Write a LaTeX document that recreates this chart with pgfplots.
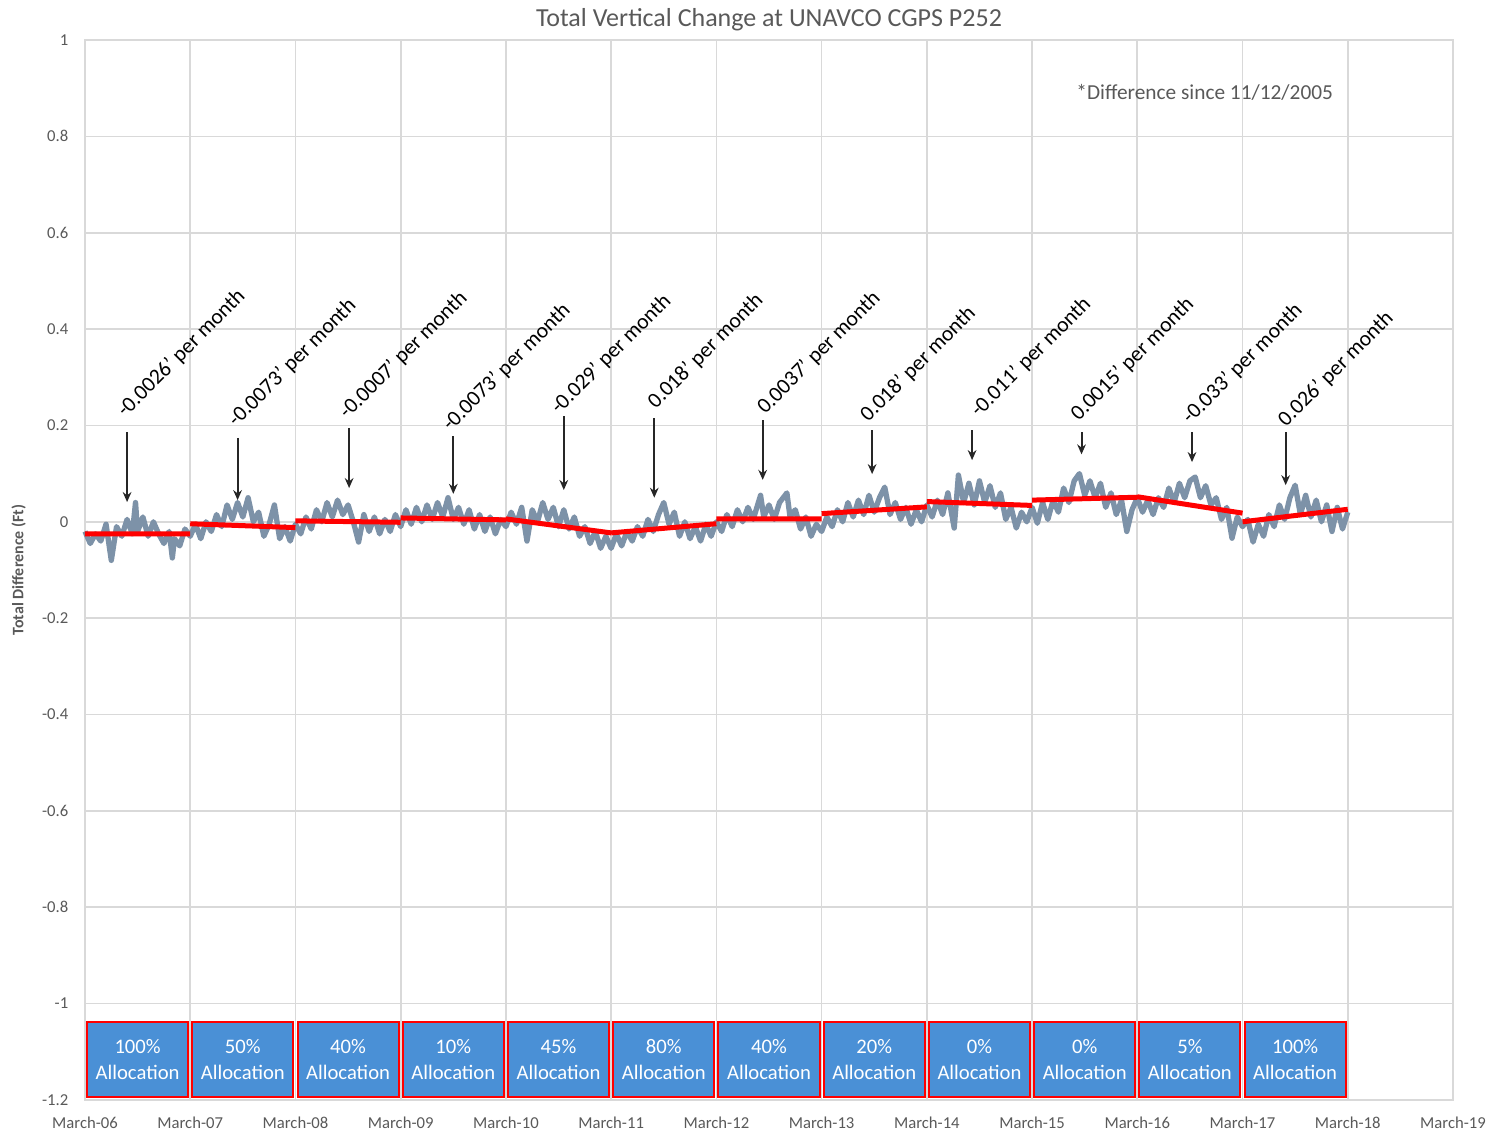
\documentclass[border=0pt]{standalone}
\usepackage{pgfplots}
\usepackage{pgfplotstable}
\pgfplotsset{compat=1.18}
\usepackage{fontspec}
\setmainfont{Carlito}
\usetikzlibrary{arrows.meta}

\definecolor{txtgray}{HTML}{595959}
\definecolor{gpsgray}{HTML}{7D92A8}
\definecolor{boxblue}{HTML}{4A90D6}
\definecolor{gridgray}{HTML}{D9D9D9}

% daily vertical change (years since March-06, ft)
\pgfplotstableread{
t v
0.00 -0.020
0.05 -0.045
0.10 -0.025
0.15 -0.040
0.20 -0.005
0.25 -0.080
0.30 -0.010
0.35 -0.030
0.40 0.005
0.45 -0.025
0.48 0.040
0.50 -0.020
0.55 0.010
0.60 -0.030
0.65 0.000
0.70 -0.025
0.75 -0.045
0.80 -0.020
0.83 -0.075
0.85 -0.035
0.90 -0.050
0.95 -0.015
1.00 -0.030
1.05 -0.005
1.10 -0.035
1.15 0.000
1.20 -0.020
1.25 0.015
1.30 -0.010
1.35 0.035
1.40 0.005
1.45 0.040
1.50 0.010
1.55 0.050
1.60 0.000
1.65 0.020
1.70 -0.030
1.75 -0.005
1.80 0.035
1.85 -0.035
1.90 -0.010
1.95 -0.040
2.00 -0.005
2.05 -0.025
2.10 0.010
2.15 -0.015
2.20 0.025
2.25 0.000
2.30 0.040
2.35 0.010
2.40 0.045
2.45 0.015
2.50 0.035
2.55 0.000
2.60 -0.042
2.65 0.015
2.70 -0.020
2.75 0.010
2.80 -0.025
2.85 0.005
2.90 -0.020
2.95 0.015
3.00 -0.010
3.05 0.025
3.10 -0.005
3.15 0.030
3.20 0.000
3.25 0.035
3.30 0.005
3.35 0.040
3.40 0.010
3.45 0.050
3.50 0.005
3.55 0.030
3.60 -0.005
3.65 0.025
3.70 -0.015
3.75 0.015
3.80 -0.020
3.85 0.010
3.90 -0.025
3.95 0.005
4.00 -0.010
4.05 0.020
4.10 -0.005
4.15 0.030
4.20 -0.040
4.25 0.025
4.30 0.000
4.35 0.040
4.40 0.005
4.45 0.030
4.50 -0.010
4.55 0.025
4.60 -0.015
4.65 0.010
4.70 -0.030
4.75 -0.010
4.80 -0.045
4.85 -0.020
4.90 -0.055
4.95 -0.030
5.00 -0.055
5.05 -0.025
5.10 -0.050
5.15 -0.020
5.20 -0.040
5.25 -0.010
5.30 -0.030
5.35 0.005
5.40 -0.020
5.45 0.015
5.50 0.040
5.55 -0.005
5.60 0.020
5.65 -0.030
5.70 0.000
5.75 -0.035
5.80 -0.010
5.85 -0.040
5.90 -0.005
5.95 -0.030
6.00 0.000
6.05 -0.020
6.10 0.015
6.15 -0.010
6.20 0.025
6.25 0.000
6.30 0.030
6.35 0.005
6.42 0.055
6.45 0.010
6.50 0.035
6.55 0.005
6.60 0.040
6.67 0.060
6.70 0.010
6.75 0.025
6.80 -0.015
6.85 0.010
6.90 -0.030
6.95 -0.005
7.00 -0.020
7.05 0.010
7.10 -0.010
7.15 0.025
7.20 0.000
7.25 0.040
7.30 0.010
7.35 0.045
7.40 0.015
7.45 0.055
7.50 0.020
7.55 0.050
7.60 0.072
7.65 0.015
7.70 0.040
7.75 0.005
7.80 0.030
7.85 -0.005
7.90 0.025
7.95 0.000
8.00 0.035
8.05 0.010
8.10 0.045
8.15 0.015
8.20 0.060
8.26 -0.013
8.30 0.097
8.35 0.040
8.40 0.080
8.45 0.035
8.50 0.085
8.55 0.040
8.60 0.075
8.65 0.030
8.70 0.060
8.75 0.005
8.80 0.030
8.85 -0.013
8.90 0.020
8.95 0.000
9.00 0.030
9.05 -0.003
9.10 0.040
9.15 0.005
9.20 0.045
9.25 0.020
9.30 0.070
9.35 0.040
9.40 0.085
9.45 0.100
9.50 0.055
9.55 0.085
9.60 0.050
9.65 0.080
9.70 0.030
9.75 0.060
9.80 0.015
9.85 0.045
9.90 -0.020
9.95 0.025
10.00 0.050
10.05 0.020
10.10 0.045
10.15 0.015
10.20 0.050
10.25 0.030
10.30 0.070
10.35 0.040
10.40 0.080
10.45 0.050
10.50 0.085
10.55 0.093
10.60 0.050
10.65 0.075
10.70 0.035
10.75 0.050
10.80 0.005
10.85 0.030
10.90 -0.034
10.95 0.010
11.00 -0.010
11.05 0.005
11.10 -0.042
11.15 -0.005
11.20 -0.030
11.25 0.015
11.30 -0.010
11.35 0.035
11.40 0.005
11.45 0.050
11.50 0.076
11.55 0.015
11.60 0.055
11.65 0.010
11.70 0.045
11.75 0.000
11.80 0.035
11.85 -0.020
11.90 0.030
11.95 -0.015
12.00 0.020
}\gpsdata

% yearly trend lines (start and end of each allocation year)
\pgfplotstableread{
t v
0 -0.025
1 -0.025
nan nan
1 -0.004
2 -0.012
nan nan
2 0.002
3 -0.001
nan nan
3 0.008
4 0.004
nan nan
4 0.006
5 -0.023
nan nan
5 -0.023
6 -0.004
nan nan
6 0.006
7 0.006
nan nan
7 0.017
8 0.031
nan nan
8 0.042
9 0.034
nan nan
9 0.045
10 0.051
nan nan
10 0.052
11 0.018
nan nan
11 0.000
12 0.026
}\trenddata

\newcommand{\allocbox}[2]{%
  \draw[red, line width=0.6pt, fill=boxblue] (axis cs:#1+0.02,-1.038) rectangle (axis cs:#1+0.98,-1.194);
  \node[text=white, align=center, font=\fontsize{6.2}{7.6}\selectfont] at (axis cs:#1+0.5,-1.116) {#2\\Allocation};}

\newcommand{\rate}[6]{%
  \draw[-{Stealth[length=3pt,width=2.6pt]}, line width=0.6pt, black!85] (axis cs:#1,#2) -- (axis cs:#1,#3);
  \node[rotate=45, anchor=base west, inner sep=0pt, font=\fontsize{6.5}{7.8}\selectfont] at (axis cs:#4,#5) {#6};}

\begin{document}
\begin{tikzpicture}
\begin{axis}[
    at={(0,0)}, anchor=south west,
    scale only axis,
    width=410.4pt, height=318pt,
    xmin=0, xmax=13,
    ymin=-1.2, ymax=1,
    clip=false,
    xtick={0,1,2,3,4,5,6,7,8,9,10,11,12,13},
    xticklabels={March-06,March-07,March-08,March-09,March-10,March-11,March-12,March-13,March-14,March-15,March-16,March-17,March-18,March-19},
    ytick={-1.2,-1,-0.8,-0.6,-0.4,-0.2,0,0.2,0.4,0.6,0.8,1},
    yticklabel style={/pgf/number format/fixed, /pgf/number format/assume math mode=true, xshift=-1.5pt},
    xticklabel style={yshift=-1.5pt},
    major tick length=0pt,
    grid=major,
    grid style={gridgray, line width=0.5pt},
    axis line style={gridgray, line width=0.5pt},
    tick label style={text=txtgray, font=\fontsize{5}{6}\selectfont},
    ylabel={\bfseries Total Difference (Ft)},
    ylabel style={text=txtgray, font=\fontsize{4.8}{6}\selectfont},
    ylabel shift=-2pt,
]
\addplot[gpsgray, line width=1.6pt, line join=round] table[x=t, y=v] {\gpsdata};
\addplot[red, line width=1.5pt, unbounded coords=jump] table[x=t, y=v] {\trenddata};

\node[text=txtgray, font=\fontsize{7.8}{9}\selectfont] at (rel axis cs:0.5,1) [yshift=6pt] {Total Vertical Change at UNAVCO CGPS P252};
\node[anchor=west, text=txtgray, font=\fontsize{6.4}{7.6}\selectfont] at (axis cs:9.31,0.892) {*Difference since 11/12/2005};

\rate{0.40}{0.186}{0.041}{0.38}{0.215}{-0.0026' per month}
\rate{1.45}{0.174}{0.045}{1.435}{0.195}{-0.0073' per month}
\rate{2.51}{0.195}{0.070}{2.49}{0.211}{-0.0007' per month}
\rate{3.50}{0.178}{0.058}{3.47}{0.186}{-0.0073' per month}
\rate{4.55}{0.219}{0.066}{4.50}{0.221}{-0.029' per month}
\rate{5.41}{0.215}{0.050}{5.42}{0.232}{0.018' per month}
\rate{6.44}{0.211}{0.087}{6.46}{0.221}{0.0037' per month}
\rate{7.48}{0.190}{0.099}{7.44}{0.205}{0.018' per month}
\rate{8.43}{0.190}{0.128}{8.49}{0.215}{-0.011' per month}
\rate{9.47}{0.186}{0.140}{9.44}{0.207}{0.0015' per month}
\rate{10.52}{0.186}{0.124}{10.50}{0.201}{-0.033' per month}
\rate{11.41}{0.186}{0.076}{11.41}{0.195}{0.026' per month}

\allocbox{0}{100\%}
\allocbox{1}{50\%}
\allocbox{2}{40\%}
\allocbox{3}{10\%}
\allocbox{4}{45\%}
\allocbox{5}{80\%}
\allocbox{6}{40\%}
\allocbox{7}{20\%}
\allocbox{8}{0\%}
\allocbox{9}{0\%}
\allocbox{10}{5\%}
\allocbox{11}{100\%}
\end{axis}
\pgfresetboundingbox
\path (-25.5pt,-9.9pt) rectangle (422.4pt,330pt);
\end{tikzpicture}
\end{document}
